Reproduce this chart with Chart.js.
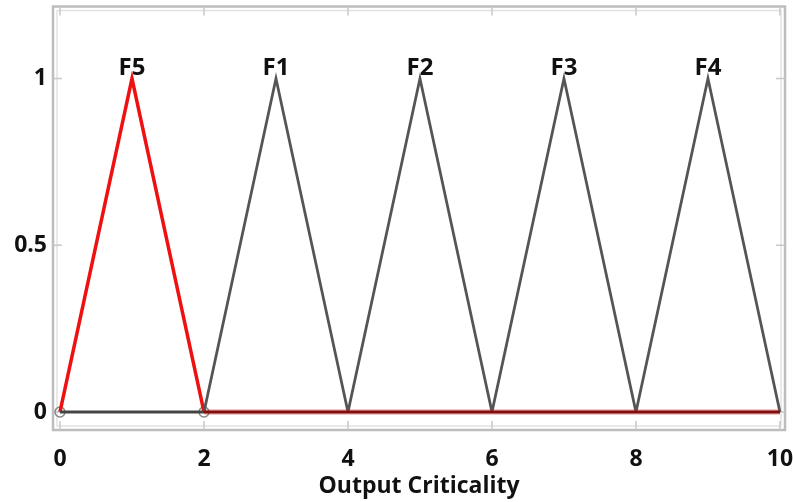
<!DOCTYPE html>
<html>
<head>
<meta charset="utf-8">
<script src="https://cdn.jsdelivr.net/npm/chart.js@4"></script>
<style>
html,body{margin:0;padding:0;background:#fff;}
#wrap{width:793px;height:502px;position:relative;}
</style>
</head>
<body>
<div id="wrap"><canvas id="c"></canvas></div>
<script>
// Data
const setNames = ["F5", "F1", "F2", "F3", "F4"];
const peaks = [1, 3, 5, 7, 9];
const f5X = [0, 1, 2];
const f5Y = [0, 1, 0];
const f1X = [2, 3, 4];
const f2X = [4, 5, 6];
const f3X = [6, 7, 8];
const f4X = [8, 9, 10];
const triY = [0, 1, 0];
const baseLeftX = [0, 2];
const baseRightX = [2, 10];
const baseY = [0, 0];
const markerX = [0, 2];
const markerY = [0, 0];
const xTicks = [0, 2, 4, 6, 8, 10];
const yTicks = [0, 0.5, 1];
const yTickLabels = ["0", "0.5", "1"];

const pts = (xs, ys) => xs.map((x, i) => ({x: x, y: ys[i]}));
const FONT = "'Open Sans', sans-serif";

const lineDs = (label, data, color, width) => ({
  label, data, borderColor: color, backgroundColor: color, borderWidth: width,
  pointRadius: 0, tension: 0, fill: false
});

const peakLabels = {
  id: 'peakLabels',
  afterDatasetsDraw(chart) {
    const ctx = chart.ctx, xs = chart.scales.x, ys = chart.scales.y;
    ctx.save();
    ctx.fillStyle = '#111';
    ctx.font = "bold 24px " + FONT;
    ctx.textAlign = 'center';
    ctx.textBaseline = 'alphabetic';
    setNames.forEach((n, i) => {
      ctx.fillText(n, xs.getPixelForValue(peaks[i]), ys.getPixelForValue(1) - 4);
    });
    ctx.restore();
  }
};

const frame = {
  id: 'frame',
  beforeDatasetsDraw(chart) {
    const ctx = chart.ctx, xs = chart.scales.x, ys = chart.scales.y, a = chart.chartArea;
    ctx.save();
    ctx.strokeStyle = '#bdbdbd';
    ctx.lineWidth = 2.5;
    ctx.strokeRect(a.left, a.top, a.right - a.left, a.bottom - a.top);
    ctx.strokeStyle = '#e2e2e2';
    ctx.lineWidth = 1.5;
    ctx.strokeRect(a.left + 4, a.top + 4, a.right - a.left - 8, a.bottom - a.top - 8);
    ctx.strokeStyle = '#c8c8c8';
    ctx.lineWidth = 1.5;
    xTicks.forEach(v => {
      const px = xs.getPixelForValue(v);
      ctx.beginPath(); ctx.moveTo(px, a.top); ctx.lineTo(px, a.top + 9); ctx.stroke();
      ctx.beginPath(); ctx.moveTo(px, a.bottom); ctx.lineTo(px, a.bottom - 9); ctx.stroke();
    });
    yTicks.forEach(v => {
      const py = ys.getPixelForValue(v);
      ctx.beginPath(); ctx.moveTo(a.left, py); ctx.lineTo(a.left + 9, py); ctx.stroke();
      ctx.beginPath(); ctx.moveTo(a.right, py); ctx.lineTo(a.right - 9, py); ctx.stroke();
    });
    ctx.restore();
  }
};

new Chart(document.getElementById('c'), {
  type: 'line',
  data: {
    datasets: [
      lineDs('baseRglow', pts(baseRightX, baseY), 'rgba(220,40,40,0.35)', 5.5),
      lineDs('baseR', pts(baseRightX, baseY), '#4a0505', 3.2),
      lineDs('baseL', pts(baseLeftX, baseY), '#444444', 3),
      lineDs('F1', pts(f1X, triY), '#555555', 2.8),
      lineDs('F2', pts(f2X, triY), '#555555', 2.8),
      lineDs('F3', pts(f3X, triY), '#555555', 2.8),
      lineDs('F4', pts(f4X, triY), '#555555', 2.8),
      lineDs('F5', pts(f5X, f5Y), '#ee1111', 3.5),
      {
        label: 'markers', data: pts(markerX, markerY), showLine: false,
        pointRadius: 5, pointStyle: 'circle', pointBorderColor: '#888',
        pointBackgroundColor: 'rgba(0,0,0,0)', pointBorderWidth: 1.5
      }
    ]
  },
  options: {
    responsive: true, maintainAspectRatio: false, animation: false,
    layout: {padding: {top: 6, right: 8, left: 0, bottom: 0}},
    plugins: {legend: {display: false}, tooltip: {enabled: false}},
    scales: {
      x: {
        type: 'linear', min: -0.097, max: 10.07,
        afterBuildTicks: s => { s.ticks = xTicks.map(v => ({value: v})); },
        afterFit: s => { s.height = 72; s.paddingLeft = 0; s.paddingRight = 0; },
        grid: {display: false, drawTicks: false},
        border: {display: false},
        ticks: {color: '#111', font: {family: FONT, size: 23, weight: 'bold'}, padding: 16, maxRotation: 0},
        title: {display: true, text: 'Output Criticality', color: '#111',
                font: {family: FONT, size: 23, weight: 'bold'}, padding: {top: 0, bottom: 2}}
      },
      y: {
        type: 'linear', min: -0.054, max: 1.216,
        afterBuildTicks: s => { s.ticks = yTicks.map(v => ({value: v})); },
        afterFit: s => { s.width = 53; s.paddingTop = 0; s.paddingBottom = 0; },
        grid: {display: false, drawTicks: false},
        border: {display: false},
        ticks: {color: '#111', font: {family: FONT, size: 23, weight: 'bold'}, padding: 6,
                callback: (v) => { const i = yTicks.indexOf(v); return i >= 0 ? yTickLabels[i] : ''; }}
      }
    }
  },
  plugins: [frame, peakLabels]
});
</script>
</body>
</html>
